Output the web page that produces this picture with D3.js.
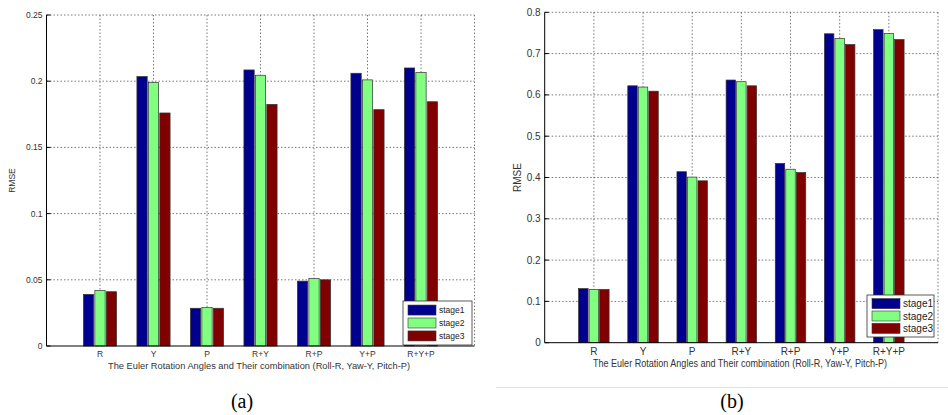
<!DOCTYPE html>
<html>
<head>
<meta charset="utf-8">
<script src="https://d3js.org/d3.v7.min.js"></script>
<style>
  body { margin: 0; background: #fff; }
  text { font-family: "Liberation Sans", Arial, sans-serif; }
  text.caption { font-family: "Liberation Serif", "Times New Roman", serif; }
</style>
</head>
<body>
<svg id="chart" width="948" height="415"></svg>
<script>
// categories and series
let categories = ["R", "Y", "P", "R+Y", "R+P", "Y+P", "R+Y+P"];
let seriesNames = ["stage1", "stage2", "stage3"];
let seriesColors = ["#00008f", "#80ff80", "#800000"];

// panel (a)
let stage1A = [0.039, 0.2035, 0.0285, 0.2085, 0.049, 0.206, 0.210];
let stage2A = [0.042, 0.199, 0.029, 0.2045, 0.051, 0.201, 0.2065];
let stage3A = [0.041, 0.176, 0.0285, 0.1825, 0.050, 0.1785, 0.1845];
let ticksA = [0, 0.05, 0.1, 0.15, 0.2, 0.25];

// panel (b)
let stage1B = [0.131, 0.622, 0.414, 0.636, 0.434, 0.748, 0.758];
let stage2B = [0.129, 0.619, 0.401, 0.632, 0.420, 0.737, 0.749];
let stage3B = [0.129, 0.609, 0.392, 0.622, 0.412, 0.722, 0.734];
let ticksB = [0, 0.1, 0.2, 0.3, 0.4, 0.5, 0.6, 0.7, 0.8];

let xLabel = "The Euler Rotation Angles and Their combination  (Roll-R, Yaw-Y, Pitch-P)";

let svg = d3.select("#chart");

function drawPanel(opt) {
    let g = svg.append("g");
    let x = d3.scaleLinear().domain([0, categories.length + 1]).range([opt.left, opt.right]);
    let y = d3.scaleLinear().domain([0, opt.yMax]).range([opt.bottom, opt.top]);
    let step = x(1) - x(0);
    let inner = d3.scaleBand().domain(seriesNames)
        .range([-step * 0.31, step * 0.31]).paddingInner(0.1);

    // grid
    g.selectAll(".hgrid").data(opt.ticks.slice(1)).enter().append("line")
        .attr("x1", opt.left).attr("x2", opt.right)
        .attr("y1", d => y(d)).attr("y2", d => y(d))
        .attr("stroke", "#555").attr("stroke-width", 0.8)
        .attr("stroke-dasharray", "1.5,2");
    g.selectAll(".vgrid").data(categories.map((c, i) => i + 1).concat([categories.length + 1])).enter().append("line")
        .attr("x1", d => x(d)).attr("x2", d => x(d))
        .attr("y1", opt.top).attr("y2", opt.bottom)
        .attr("stroke", "#555").attr("stroke-width", 0.8)
        .attr("stroke-dasharray", "1.5,2");

    // bars
    let rows = [];
    opt.series.forEach((vals, s) => {
        vals.forEach((v, i) => rows.push({ s: s, i: i, v: v }));
    });
    g.selectAll(".bar").data(rows).enter().append("rect")
        .attr("x", d => x(d.i + 1) + inner(seriesNames[d.s]))
        .attr("y", d => y(d.v))
        .attr("width", inner.bandwidth())
        .attr("height", d => y(0) - y(d.v))
        .attr("fill", d => seriesColors[d.s])
        .attr("stroke", "#333")
        .attr("stroke-width", 0.7);

    // axes
    g.append("line").attr("x1", opt.left).attr("x2", opt.left)
        .attr("y1", opt.top).attr("y2", opt.bottom).attr("stroke", "#000");
    g.append("line").attr("x1", opt.left).attr("x2", opt.right)
        .attr("y1", opt.bottom).attr("y2", opt.bottom).attr("stroke", "#000");
    g.selectAll(".ytick").data(opt.ticks).enter().append("line")
        .attr("x1", opt.left).attr("x2", opt.left + 4)
        .attr("y1", d => y(d)).attr("y2", d => y(d)).attr("stroke", "#000");
    g.selectAll(".ylab").data(opt.ticks).enter().append("text")
        .attr("x", opt.left - 4).attr("y", d => y(d) + opt.tickSize * 0.35)
        .attr("text-anchor", "end").attr("font-size", opt.tickSize).attr("fill", "#333")
        .text(d => d);
    g.selectAll(".xlab").data(categories).enter().append("text")
        .attr("x", (d, i) => x(i + 1)).attr("y", opt.bottom + opt.tickSize + 2)
        .attr("text-anchor", "middle").attr("font-size", opt.tickSize).attr("fill", "#333")
        .text(d => d);

    g.append("text")
        .attr("x", opt.labelX).attr("y", opt.bottom + opt.tickSize + 14)
        .attr("text-anchor", "middle").attr("font-size", opt.tickSize).attr("fill", "#333")
        .attr("textLength", opt.labelW).attr("lengthAdjust", "spacingAndGlyphs")
        .text(xLabel);
    g.append("text")
        .attr("transform", "translate(" + opt.rmseX + "," + ((opt.top + opt.bottom) / 2) + ") rotate(-90)")
        .attr("text-anchor", "middle").attr("font-size", opt.tickSize).attr("fill", "#333")
        .text("RMSE");

    // legend
    let lg = g.append("g").attr("transform", "translate(" + opt.legX + "," + opt.legY + ")");
    lg.append("rect").attr("width", opt.legW).attr("height", opt.legH)
        .attr("fill", "#fff").attr("stroke", "#333").attr("stroke-width", 0.8);
    let rowH = opt.legH / 3.4;
    seriesNames.forEach((name, s) => {
        let cy = rowH * 0.7 + s * rowH;
        lg.append("rect").attr("x", 5).attr("y", cy - 5)
            .attr("width", opt.swW).attr("height", 10)
            .attr("fill", seriesColors[s]).attr("stroke", "#333").attr("stroke-width", 0.6);
        lg.append("text").attr("x", opt.swW + 8).attr("y", cy + opt.tickSize * 0.35)
            .attr("font-size", opt.tickSize).attr("fill", "#222")
            .text(name);
    });

    // caption
    svg.append("text")
        .attr("class", "caption")
        .attr("x", opt.capX).attr("y", 408)
        .attr("text-anchor", "middle")
        .attr("font-size", 20).attr("fill", "#000")
        .text(opt.caption);
}

drawPanel({
    left: 46.5, right: 474.5, top: 15, bottom: 346, yMax: 0.25,
    ticks: ticksA, series: [stage1A, stage2A, stage3A],
    tickSize: 8.5, labelX: 259, labelW: 302, rmseX: 15,
    legX: 403, legY: 301, legW: 69, legH: 44, swW: 28,
    capX: 242, caption: "(a)"
});

drawPanel({
    left: 544.7, right: 938, top: 12.3, bottom: 342.7, yMax: 0.8,
    ticks: ticksB, series: [stage1B, stage2B, stage3B],
    tickSize: 10, labelX: 740, labelW: 294, rmseX: 521,
    legX: 867, legY: 295, legW: 67, legH: 42, swW: 28,
    capX: 732, caption: "(b)"
});

// thin separator line under panel (b)
svg.append("line")
    .attr("x1", 496).attr("x2", 948).attr("y1", 387.5).attr("y2", 387.5)
    .attr("stroke", "#dde3ec").attr("stroke-width", 1);
</script>
</body>
</html>
